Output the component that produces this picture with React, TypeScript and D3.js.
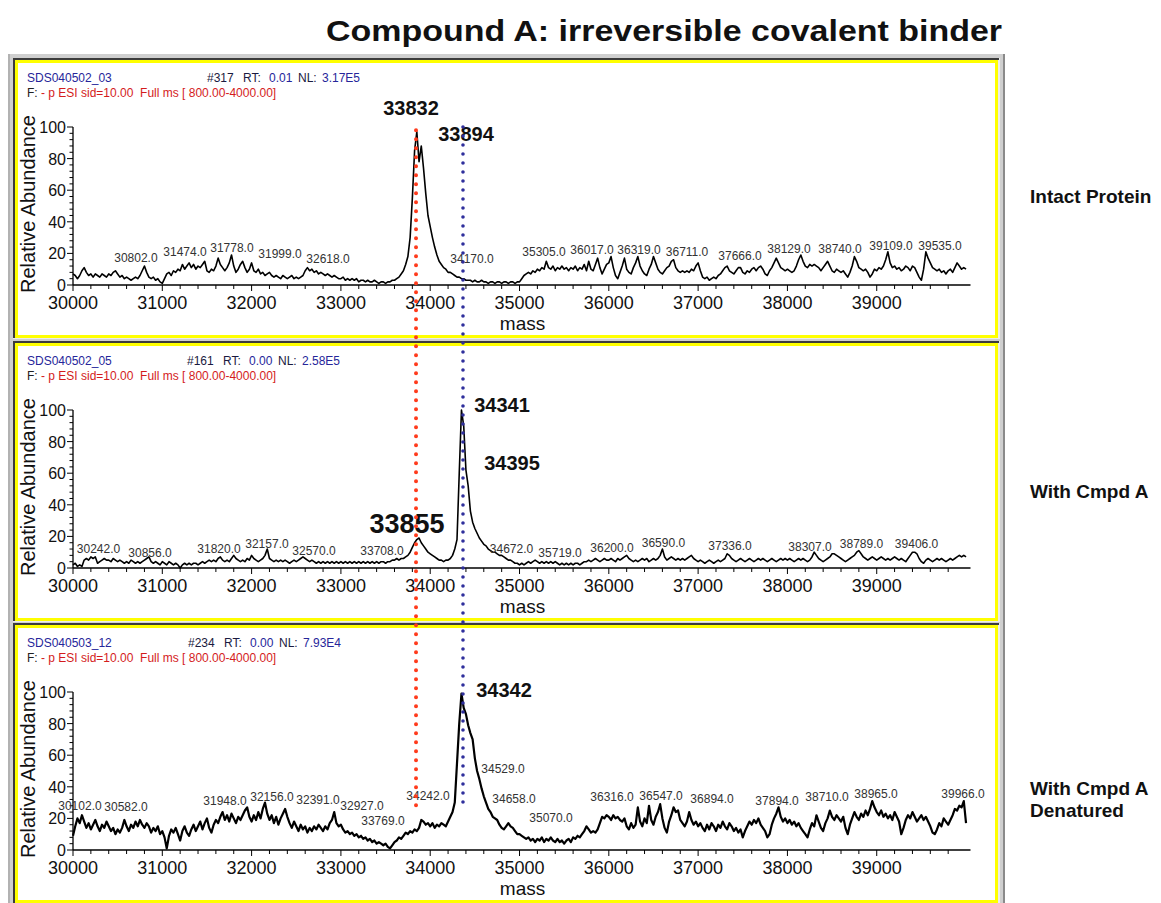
import React from "react";
import * as d3 from "d3";

const FONT = "'Liberation Sans', Arial, Helvetica, sans-serif";

// deconvoluted spectra, relative abundance read every 25 Da from 30000 to 40000
const MASS_START = 30000;
const MASS_STEP = 25;

const intactAbundance = [
  7, 6, 4, 6, 9, 11, 8, 6, 7, 5, 7, 6, 5, 7, 6, 5, 7, 6, 8, 9, 7, 5, 6, 4, 5, 4, 3, 4, 5, 4, 6, 9, 12, 8, 5, 4, 5, 3, 4, 2,
  1, 4, 7, 8, 6, 9, 8, 10, 9, 13, 10, 12, 14, 11, 13, 10, 12, 11, 13, 15, 9, 8, 10, 9, 12, 17, 13, 11, 9, 11, 14, 19, 12, 8, 10, 13, 15, 11, 8, 10,
  14, 9, 8, 10, 7, 8, 6, 7, 8, 6, 5, 6, 5, 4, 6, 5, 4, 5, 6, 4, 5, 4, 5, 6, 9, 11, 9, 10, 8, 9, 7, 8, 7, 6, 7, 6, 5, 6, 5, 4,
  4, 5, 3, 4, 3, 4, 3, 4, 2, 3, 3, 2, 3, 2, 2, 3, 2, 1, 2, 2, 1, 2, 2, 3, 3, 4, 5, 7, 9, 13, 18, 30, 55, 85, 97, 78, 88, 74, 58, 44,
  37, 30, 24, 19, 15, 13, 11, 10, 8, 8, 7, 6, 5, 5, 4, 4, 3, 3, 3, 2, 3, 2, 2, 3, 2, 2, 1, 2, 2, 1, 2, 2, 1, 2, 2, 1, 2, 2, 1, 2,
  2, 4, 6, 7, 8, 7, 9, 8, 10, 9, 11, 10, 15, 11, 10, 12, 9, 11, 10, 12, 10, 11, 9, 11, 10, 12, 9, 11, 10, 13, 9, 15, 10, 9, 13, 17, 11, 7, 10, 13,
  14, 18, 11, 6, 4, 8, 12, 17, 10, 8, 7, 11, 14, 18, 12, 9, 7, 6, 10, 13, 18, 14, 10, 8, 7, 9, 11, 12, 15, 16, 11, 9, 8, 9, 8, 9, 8, 10, 9, 12,
  14, 9, 5, 4, 5, 3, 4, 5, 4, 6, 7, 9, 11, 12, 9, 8, 7, 9, 11, 11, 8, 7, 9, 8, 10, 11, 9, 11, 12, 10, 7, 6, 9, 11, 14, 17, 14, 11, 10, 9,
  10, 9, 8, 9, 12, 16, 19, 15, 12, 11, 13, 12, 13, 12, 11, 9, 11, 13, 15, 12, 9, 8, 10, 9, 8, 9, 7, 5, 8, 12, 18, 15, 11, 10, 9, 10, 8, 5, 7, 10,
  9, 11, 10, 12, 16, 21, 14, 11, 12, 10, 11, 9, 10, 12, 11, 9, 12, 11, 8, 5, 3, 10, 21, 17, 14, 11, 10, 9, 10, 8, 9, 7, 9, 10, 8, 11, 14, 12, 10, 11,
  10,
];

const cmpdAAbundance = [
  2, 3, 1, 2, 1, 5, 6, 5, 7, 6, 7, 3, 4, 5, 6, 5, 5, 4, 6, 5, 4, 5, 4, 3, 4, 3, 5, 4, 3, 4, 3, 4, 5, 6, 7, 4, 3, 4, 3, 2,
  4, 3, 2, 4, 3, 2, 3, 2, 0, 2, 3, 2, 3, 2, 3, 3, 2, 3, 4, 3, 4, 5, 4, 5, 4, 6, 7, 5, 4, 5, 4, 6, 8, 6, 5, 4, 5, 4, 6, 5,
  8, 6, 5, 4, 5, 6, 8, 12, 6, 5, 4, 5, 4, 5, 4, 5, 4, 3, 4, 5, 4, 5, 6, 7, 6, 5, 4, 5, 4, 3, 4, 3, 4, 3, 4, 3, 4, 3, 4, 3,
  4, 3, 4, 3, 4, 3, 4, 3, 4, 3, 4, 3, 4, 3, 4, 3, 4, 3, 4, 4, 3, 4, 4, 5, 5, 6, 5, 6, 6, 7, 8, 10, 13, 16, 18, 19, 16, 14, 12, 10,
  9, 8, 7, 6, 5, 5, 4, 5, 5, 6, 8, 12, 18, 60, 100, 90, 62, 52, 36, 29, 25, 22, 19, 17, 15, 14, 12, 11, 10, 10, 9, 8, 8, 7, 6, 5, 5, 4, 3, 3,
  2, 3, 2, 3, 4, 3, 4, 5, 4, 3, 4, 3, 4, 3, 4, 3, 4, 3, 2, 3, 2, 3, 2, 3, 2, 3, 3, 2, 3, 4, 4, 5, 4, 5, 6, 5, 4, 5, 6, 5,
  5, 6, 5, 4, 6, 5, 6, 7, 8, 6, 5, 4, 5, 4, 5, 6, 5, 6, 4, 5, 6, 5, 6, 8, 12, 7, 5, 6, 7, 6, 5, 6, 5, 6, 5, 6, 7, 8, 6, 5,
  4, 5, 4, 3, 4, 5, 4, 3, 4, 5, 4, 5, 6, 9, 8, 6, 5, 4, 5, 6, 5, 4, 5, 6, 5, 4, 5, 6, 5, 6, 5, 4, 5, 6, 5, 4, 5, 6, 5, 6,
  5, 6, 5, 4, 5, 6, 5, 6, 5, 4, 5, 7, 10, 8, 6, 5, 4, 5, 6, 7, 9, 9, 8, 7, 6, 5, 4, 5, 6, 7, 8, 10, 11, 9, 7, 6, 5, 6, 7, 6,
  5, 6, 7, 6, 5, 6, 5, 6, 7, 6, 5, 6, 5, 4, 6, 8, 10, 10, 9, 6, 4, 3, 5, 6, 5, 4, 5, 6, 5, 6, 5, 4, 5, 6, 5, 6, 7, 8, 7, 8,
  7,
];

const denaturedAbundance = [
  9, 15, 20, 17, 22, 18, 14, 17, 13, 16, 19, 15, 12, 16, 14, 18, 15, 12, 14, 10, 13, 11, 14, 19, 15, 12, 16, 14, 18, 15, 19, 16, 14, 17, 15, 11, 14, 12, 15, 10,
  12, 8, 1, 9, 13, 11, 14, 10, 6, 12, 15, 11, 9, 13, 16, 12, 15, 18, 13, 17, 20, 14, 11, 16, 19, 17, 21, 24, 19, 22, 18, 23, 20, 17, 21, 19, 22, 25, 27, 21,
  18, 22, 19, 24, 20, 26, 30, 23, 19, 22, 17, 21, 16, 20, 23, 26, 21, 17, 14, 18, 15, 12, 16, 13, 15, 11, 14, 12, 15, 13, 16, 14, 12, 15, 13, 17, 19, 24, 17, 15,
  16, 13, 11, 12, 10, 11, 9, 10, 8, 9, 7, 8, 6, 7, 5, 6, 4, 5, 4, 3, 4, 2, 1, 3, 5, 6, 8, 7, 9, 11, 10, 12, 11, 13, 12, 14, 19, 18, 16, 17,
  15, 17, 14, 16, 15, 17, 16, 15, 18, 21, 24, 30, 55, 80, 99, 90, 86, 79, 74, 70, 58, 50, 45, 39, 34, 30, 26, 24, 21, 20, 19, 16, 14, 13, 15, 17, 15, 14, 12, 10,
  10, 9, 8, 7, 8, 6, 7, 5, 7, 6, 8, 5, 7, 6, 8, 6, 5, 7, 5, 6, 4, 6, 7, 5, 8, 7, 9, 8, 10, 12, 15, 13, 11, 12, 11, 13, 17, 21, 20, 22,
  21, 19, 22, 20, 21, 19, 18, 20, 15, 13, 17, 14, 16, 27, 18, 15, 20, 17, 28, 19, 16, 21, 24, 29, 20, 14, 11, 18, 22, 27, 24, 25, 19, 17, 15, 18, 24, 19, 16, 18,
  15, 17, 14, 12, 16, 13, 17, 15, 12, 16, 14, 18, 15, 13, 17, 15, 12, 14, 11, 13, 8, 12, 15, 18, 16, 19, 17, 20, 16, 14, 12, 8, 10, 16, 20, 23, 27, 21, 18, 20,
  17, 19, 16, 18, 15, 17, 14, 12, 10, 8, 13, 17, 15, 22, 18, 14, 12, 17, 20, 25, 21, 19, 22, 20, 18, 21, 14, 10, 16, 20, 24, 21, 19, 23, 21, 25, 22, 26, 31, 27,
  24, 22, 25, 21, 23, 20, 22, 19, 24, 21, 18, 10, 14, 19, 22, 20, 24, 21, 18, 20, 22, 19, 21, 18, 15, 11, 10, 13, 17, 15, 20, 18, 16, 19, 22, 26, 25, 28, 27, 31,
  17,
];

const fileNames = ["SDS040502_03", "SDS040502_05", "SDS040503_12"];
const scanNumbers = ["#317", "#161", "#234"];
const retentionTimes = ["0.01", "0.00", "0.00"];
const normLevels = ["3.17E5", "2.58E5", "7.93E4"];
const scanFilter = "- p ESI sid=10.00  Full ms [ 800.00-4000.00]";
const conditionLabels = [["Intact Protein"], ["With Cmpd A"], ["With Cmpd A", "Denatured"]];

const massTicks = [30000, 31000, 32000, 33000, 34000, 35000, 36000, 37000, 38000, 39000];
const abundanceTicks = [0, 20, 40, 60, 80, 100];

// small peak labels: [text, mass under the label centre, abundance at the label baseline]
const intactPeaks: [string, number, number][] = [
  ["30802.0", 30705, 14.6], ["31474.0", 31254, 18.4], ["31778.0", 31780, 20.9], ["31999.0", 32318, 17.1],
  ["32618.0", 32856, 13.9], ["34170.0", 34468, 13.9], ["35305.0", 35274, 18.4], ["36017.0", 35812, 19.6],
  ["36319.0", 36338, 19.6], ["36711.0", 36876, 18.4], ["37666.0", 37469, 15.8], ["38129.0", 38018, 20.3],
  ["38740.0", 38589, 20.3], ["39109.0", 39160, 22.2], ["39535.0", 39709, 22.2],
];
const cmpdAPeaks: [string, number, number][] = [
  ["30242.0", 30286, 9.5], ["30856.0", 30862, 7], ["31820.0", 31635, 9.5], ["32157.0", 32172, 12.7],
  ["32570.0", 32699, 8.2], ["33708.0", 33460, 8.2], ["34672.0", 34910, 9.5], ["35719.0", 35454, 7],
  ["36200.0", 36036, 10], ["36590.0", 36612, 13.3], ["37336.0", 37357, 11.4], ["38307.0", 38253, 10.8],
  ["38789.0", 38830, 12.7], ["39406.0", 39446, 12.7],
];
const denaturedPeaks: [string, number, number][] = [
  ["30102.0", 30078, 25.3], ["30582.0", 30594, 24.7], ["31948.0", 31702, 28.5], ["32156.0", 32228, 31],
  ["32391.0", 32744, 29], ["32927.0", 33236, 25.3], ["33769.0", 33471, 15.8], ["34242.0", 33975, 31.6],
  ["34529.0", 34815, 48.7], ["34658.0", 34938, 29.7], ["35070.0", 35353, 17.7], ["36316.0", 36036, 31],
  ["36547.0", 36585, 31.6], ["36894.0", 37156, 29.7], ["37894.0", 37884, 28.5], ["38710.0", 38443, 31],
  ["38965.0", 38992, 32.9], ["39966.0", 39966, 32.9],
];

// bold mass annotations: [text, mass under the text centre, abundance at the baseline]
const intactNotes: [string, number, number][] = [["33832", 33785, 107.6], ["33894", 34401, 91]];
const cmpdANotes: [string, number, number][] = [["34341", 34804, 98.7], ["34395", 34916, 62], ["33855", 33740, 22.2]];
const denaturedNotes: [string, number, number][] = [["34342", 34827, 96.8]];
const bigNote = "33855";

// dotted guides: [mass, abundance where it starts in the top panel, abundance where it ends in the bottom panel]
const guideLines: [number, number, number][] = [[33841, 98, 25.3], [34367, 100, 27.8]];
const guideColors = ["#ff3b1c", "#2f2f9c"];

const spectra = [intactAbundance, cmpdAAbundance, denaturedAbundance];
const peakSets = [intactPeaks, cmpdAPeaks, denaturedPeaks];
const noteSets = [intactNotes, cmpdANotes, denaturedNotes];

// layout
const W = 1161;
const H = 903;
const panelTops = [60, 343, 625];
const PANEL_H = 278;
const ZERO_OFFSET = 225;
const Y_SPAN = 158;
const scanX = [207, 187, 188];
const conditionY = [203, 498, 795];
const BLUE = "#26269a";
const RED = "#d41c1c";

const x = d3.scaleLinear().domain([30000, 40050]).range([73, 970.5]);
const minorMass = d3.range(30000, 39900, 200);
const minorAbundance = d3.range(0, 101, 4);

const yFor = (p: number) => {
  const y0 = panelTops[p] + ZERO_OFFSET;
  return d3.scaleLinear().domain([0, 100]).range([y0, y0 - Y_SPAN]);
};

function Panel({ p }: { p: number }) {
  const top = panelTops[p];
  const y = yFor(p);
  const y0 = y(0);
  const line = d3
    .line<number>()
    .x((_, k) => x(MASS_START + k * MASS_STEP))
    .y((d) => y(d));
  const right = 998;
  return (
    <g>
      <rect x={13} y={top - 2} width={right - 13 + 2} height={PANEL_H + 3} fill="#ececec" />
      <rect x={15} y={top} width={right - 15} height={PANEL_H} fill="#fff" />
      <rect x={16.5} y={top + 1.5} width={right - 18} height={PANEL_H - 3} fill="none" stroke="#ffff00" strokeWidth={3} />
      <path d={`M14,${top + PANEL_H} V${top - 1} H${right + 1}`} fill="none" stroke="#3c3c3c" strokeWidth={2} />

      <text x={27} y={top + 22} fontSize={12} fill={BLUE}>{fileNames[p]}</text>
      <text y={top + 22} fontSize={12} fill="#1a1a40">
        <tspan x={scanX[p]}>{scanNumbers[p]}</tspan>
        <tspan x={scanX[p] + 36}>RT:</tspan>
        <tspan x={scanX[p] + 62} fill={BLUE}>{retentionTimes[p]}</tspan>
        <tspan x={scanX[p] + 91}>NL:</tspan>
        <tspan x={scanX[p] + 115} fill={BLUE}>{normLevels[p]}</tspan>
      </text>
      <text x={27} y={top + 37} fontSize={12} fill="#222" style={{ whiteSpace: "pre" }}>
        F:<tspan fill={RED}>{" " + scanFilter}</tspan>
      </text>

      <text transform={`translate(35,${(y0 + y(100)) / 2 - 2}) rotate(-90)`} textAnchor="middle" fontSize={20} fill="#111">
        Relative Abundance
      </text>

      <path d={line(spectra[p]) || ""} fill="none" stroke="#000" strokeWidth={p === 2 ? 2.2 : 1.6} strokeLinejoin="round" />

      <line x1={x(30000)} x2={x(30000)} y1={y0} y2={y(100)} stroke="#000" strokeWidth={1.3} />
      {minorAbundance.map((v) => (
        <line key={"ya" + v} x1={x(30000) - (v % 20 === 0 ? 6 : 3.5)} x2={x(30000)} y1={y(v)} y2={y(v)} stroke="#000" strokeWidth={1} />
      ))}
      {abundanceTicks.map((v) => (
        <text key={"yl" + v} x={66} y={y(v) + 6} textAnchor="end" fontSize={16} fill="#111">{v}</text>
      ))}

      <line x1={x(30000)} x2={x.range()[1]} y1={y0} y2={y0} stroke="#000" strokeWidth={1.3} />
      {minorMass.map((m) => (
        <line key={"xm" + m} x1={x(m)} x2={x(m)} y1={y0} y2={y0 + (m % 1000 === 0 ? 6 : 4)} stroke="#000" strokeWidth={1} />
      ))}
      {massTicks.map((m) => (
        <text key={"xl" + m} x={x(m)} y={y0 + 24} textAnchor="middle" fontSize={18} fill="#111">{m}</text>
      ))}
      <text x={x(35000) + 3} y={y0 + 45} textAnchor="middle" fontSize={19} fill="#111">mass</text>

      {peakSets[p].map(([t, m, a]) => (
        <text key={"pk" + t} x={x(m)} y={y(a)} textAnchor="middle" fontSize={12} fill="#333">{t}</text>
      ))}
      {noteSets[p].map(([t, m, a]) => (
        <text key={"nt" + t} x={x(m)} y={y(a)} textAnchor="middle" fontSize={t === bigNote ? 27 : 20} fontWeight="bold" fill="#111">{t}</text>
      ))}

      {conditionLabels[p].map((t, k) => (
        <text key={"cl" + k} x={1030} y={conditionY[p] + k * 22} fontSize={19} fontWeight="bold" fill="#111">{t}</text>
      ))}
    </g>
  );
}

export default function App() {
  const yTop = yFor(0);
  const yBottom = yFor(2);
  return (
    <>
      <style>{`html,body{margin:0;padding:0;overflow:hidden}`}</style>
      <svg width={W} height={H} viewBox={`0 0 ${W} ${H}`} style={{ display: "block", fontFamily: FONT }}>
        <rect width={W} height={H} fill="#fff" />
        <text x={664} y={41} textAnchor="middle" fontSize={30} fontWeight="bold" textLength={676} lengthAdjust="spacingAndGlyphs" fill="#111">
          Compound A: irreversible covalent binder
        </text>
        <rect x={8} y={54} width={997} height={H - 54} fill="#cfcfcf" />
        <line x1={1004} x2={1004} y1={54} y2={H} stroke="#8a8a8a" strokeWidth={2} />
        <line x1={9} x2={9} y1={54} y2={H} stroke="#a8a8a8" strokeWidth={1.5} />
        {[0, 1, 2].map((p) => (
          <Panel key={p} p={p} />
        ))}
        {guideLines.map(([m, a0, a1], k) => (
          <line
            key={"g" + k}
            x1={x(m)}
            x2={x(m)}
            y1={yTop(a0)}
            y2={yBottom(a1)}
            stroke={guideColors[k]}
            strokeWidth={k === 0 ? 4 : 3.6}
            strokeDasharray="0 9"
            strokeLinecap="round"
          />
        ))}
      </svg>
    </>
  );
}
